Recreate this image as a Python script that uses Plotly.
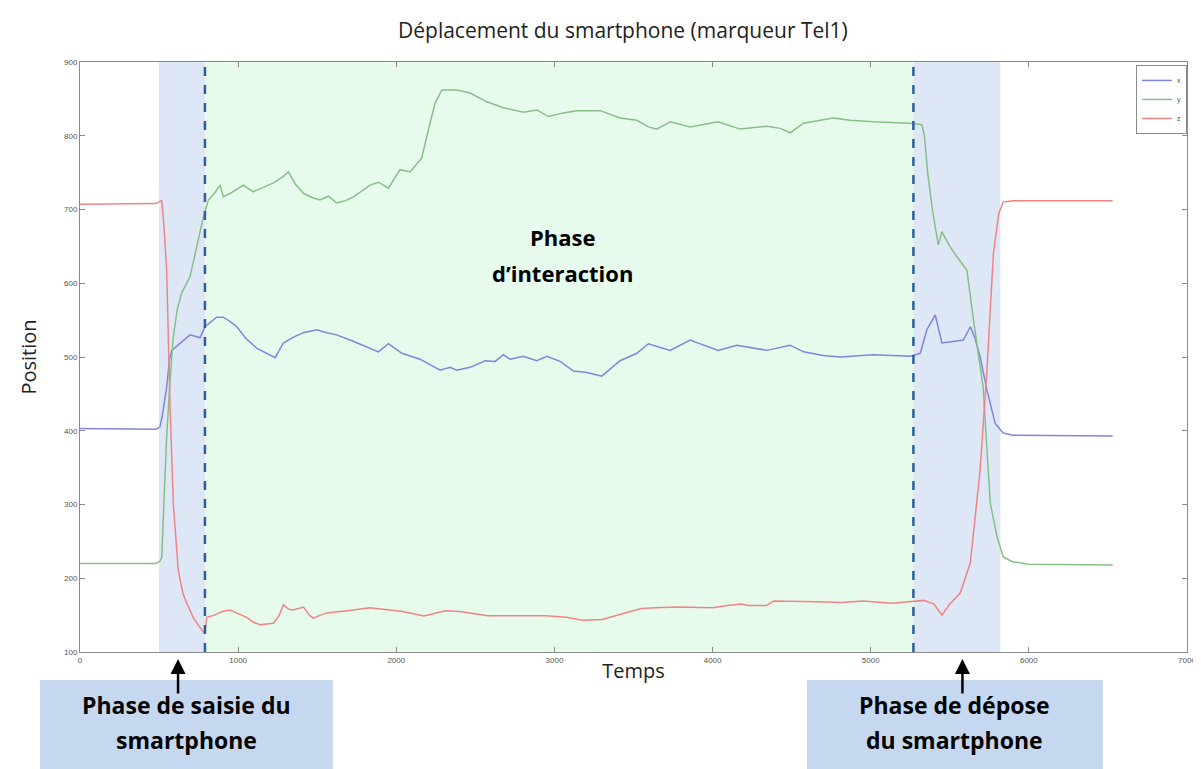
import plotly.graph_objects as go

# position x (blue)
t_x = [0, 480, 505, 520, 548, 565, 580, 640, 696, 759, 790, 830, 864, 906, 950, 991, 1050, 1117,
       1180, 1234, 1286, 1350, 1412, 1497, 1560, 1623, 1720, 1813, 1887, 1950, 2035, 2150, 2277,
       2340, 2382, 2467, 2562, 2625, 2677, 2720, 2804, 2889, 2952, 3036, 3120, 3205, 3300, 3415,
       3521, 3594, 3732, 3858, 4035, 4153, 4343, 4491, 4575, 4700, 4807, 5017, 5250, 5313, 5355,
       5408, 5450, 5520, 5586, 5630, 5660, 5692, 5735, 5787, 5838, 5900, 6530]
pos_x = [403, 402, 405, 420, 459, 495, 509, 520, 530, 526, 541, 548, 554, 554, 548, 541, 525, 512,
         505, 499, 519, 527, 533, 537, 533, 530, 522, 514, 507, 518, 505, 497, 482,
         486, 482, 486, 495, 494, 503, 497, 501, 495, 501, 494, 481, 479, 474, 495,
         505, 518, 509, 523, 509, 516, 509, 516, 507, 502, 500, 503, 501, 505, 537,
         557, 519, 521, 523, 541, 525, 500, 455, 410, 397, 394, 393]

# position y (green)
t_y = [0, 480, 505, 517, 530, 548, 570, 590, 615, 643, 696, 738, 780, 812, 850, 886, 906, 950,
       1033, 1096, 1160, 1223, 1280, 1318, 1360, 1413, 1470, 1518, 1570, 1623, 1680, 1729, 1834,
       1887, 1950, 2024, 2087, 2161, 2203, 2245, 2288, 2382, 2467, 2520, 2572, 2677, 2804, 2889,
       2961, 3057, 3141, 3289, 3415, 3521, 3594, 3647, 3732, 3858, 4035, 4174, 4343, 4428, 4491,
       4575, 4763, 4870, 5017, 5250, 5323, 5340, 5360, 5390, 5427, 5450, 5500, 5545, 5608, 5650,
       5711, 5756, 5799, 5838, 5900, 5946, 6000, 6530]
pos_y = [220, 220, 223, 228, 300, 392, 470, 527, 565, 587, 609, 650, 690, 713, 722, 733, 717, 722,
         733, 724, 730, 736, 744, 751, 735, 722, 716, 713, 718, 709, 712, 717, 733,
         737, 729, 754, 751, 770, 808, 844, 862, 862, 858, 852, 846, 838, 832, 835,
         826, 831, 834, 834, 824, 821, 812, 809, 819, 812, 819, 809, 813, 810, 804,
         817, 824, 821, 819, 817, 815, 800, 750, 700, 652, 670, 650, 636, 618, 550,
         459, 302, 256, 229, 222, 221, 219, 218]

# position z (red)
t_z = [0, 480, 505, 517, 530, 548, 569, 590, 621, 650, 675, 720, 770, 790, 801, 850, 900, 949,
       1000, 1054, 1100, 1139, 1223, 1260, 1286, 1320, 1349, 1413, 1450, 1476, 1520, 1561, 1729,
       1834, 2040, 2175, 2310, 2400, 2580, 2783, 2942, 3075, 3178, 3302, 3416, 3549, 3641, 3776,
       4004, 4092, 4183, 4228, 4340, 4387, 4655, 4814, 4953, 5130, 5243, 5336, 5400, 5450, 5500,
       5566, 5630, 5692, 5735, 5776, 5810, 5838, 5900, 6530]
pos_z = [707, 708, 711, 712, 680, 618, 437, 302, 211, 180, 166, 145, 130, 125, 147, 150, 155, 157,
         152, 147, 140, 137, 139, 150, 164, 158, 157, 161, 150, 146, 150, 153, 157,
         160, 155, 149, 156, 155, 149, 149, 149, 147, 143, 144, 151, 159, 160, 161,
         160, 163, 165, 163, 163, 169, 168, 167, 169, 166, 168, 170, 165, 150, 165,
         180, 221, 347, 482, 641, 695, 710, 712, 712]

# phases (time bounds)
saisie = [500, 790]
interaction = [790, 5270]
depose = [5270, 5820]

x_ticks = [0, 1000, 2000, 3000, 4000, 5000, 6000, 7000]
y_ticks = [100, 200, 300, 400, 500, 600, 700, 800, 900]

fig = go.Figure()
fig.add_trace(go.Scatter(x=t_x, y=pos_x, mode='lines', name='x', line=dict(color='#7f86dc', width=1.5)))
fig.add_trace(go.Scatter(x=t_y, y=pos_y, mode='lines', name='y', line=dict(color='#86c086', width=1.5)))
fig.add_trace(go.Scatter(x=t_z, y=pos_z, mode='lines', name='z', line=dict(color='#f08484', width=1.5)))

# shaded phases
for x0, x1, col in [(saisie[0], saisie[1], '#dde7f6'),
                    (interaction[0], interaction[1], '#e6fbec'),
                    (depose[0], depose[1], '#dde7f6')]:
    fig.add_shape(type='rect', xref='x', yref='paper', x0=x0, x1=x1, y0=0, y1=1,
                  fillcolor=col, line_width=0, layer='below')
for xv in interaction:
    fig.add_shape(type='line', xref='x', yref='paper', x0=xv, x1=xv, y0=0, y1=1,
                  line=dict(color='#2f5d9e', width=2.5, dash='dash'))

# bottom label boxes
for x0, x1 in [(-0.0361, 0.2285), (0.6567, 0.9241)]:
    fig.add_shape(type='rect', xref='paper', yref='paper', x0=x0, x1=x1, y0=-0.22, y1=-0.0475,
                  fillcolor='#c6d8ef', line_width=0)

# phase labels, one annotation per line
bold_box = dict(family='Open Sans', size=23, color='black')
bold_mid = dict(family='Open Sans', size=22, color='black')
labels = [
    (0.0962, -0.0898, 'Phase de saisie du', bold_box),
    (0.0962, -0.1492, 'smartphone', bold_box),
    (0.7904, -0.0898, 'Phase de dépose', bold_box),
    (0.7904, -0.1492, 'du smartphone', bold_box),
    (0.436, 0.7034, 'Phase', bold_mid),
    (0.436, 0.6424, 'd’interaction', bold_mid),
]
for lx, ly, txt, fnt in labels:
    fig.add_annotation(x=lx, y=ly, xref='paper', yref='paper', showarrow=False,
                       xanchor='center', yanchor='middle', text='<b>' + txt + '</b>', font=fnt)

# arrows
for xa in [620, 5580]:
    fig.add_annotation(x=xa, y=-0.012, xref='x', yref='paper', text='', showarrow=True,
                       ax=0, ay=36, arrowhead=2, arrowsize=1.2, arrowwidth=2.5, arrowcolor='black')

axis_common = dict(showline=True, mirror='ticks', linecolor='#8a8a8a', linewidth=1,
                   ticks='inside', ticklen=5, tickcolor='#8a8a8a', showgrid=False, zeroline=False,
                   tickfont=dict(family='Liberation Sans', size=8, color='#555'))

fig.update_layout(
    width=1201, height=769,
    margin=dict(l=72, r=22, t=54, b=125),
    paper_bgcolor='white', plot_bgcolor='white',
    title=dict(text='Déplacement du smartphone (marqueur Tel1)', x=0.512, xanchor='center',
               y=0.971, yanchor='middle', font=dict(family='Open Sans', size=21, color='#222')),
    xaxis=dict(range=[0, 7000], tickvals=x_ticks,
               title=dict(text='Temps', standoff=0, font=dict(family='Open Sans', size=20, color='#222')),
               **axis_common),
    yaxis=dict(range=[100, 900], tickvals=y_ticks,
               title=dict(text='Position', standoff=22, font=dict(family='Open Sans', size=20, color='#222')),
               **axis_common),
    legend=dict(x=1.0, y=0.995, xanchor='right', yanchor='top', bgcolor='white',
                bordercolor='#8a8a8a', borderwidth=1, itemwidth=30,
                font=dict(family='Liberation Sans', size=7, color='#555'),
                tracegroupgap=0),
    showlegend=True,
)

fig.write_html("out.html")
